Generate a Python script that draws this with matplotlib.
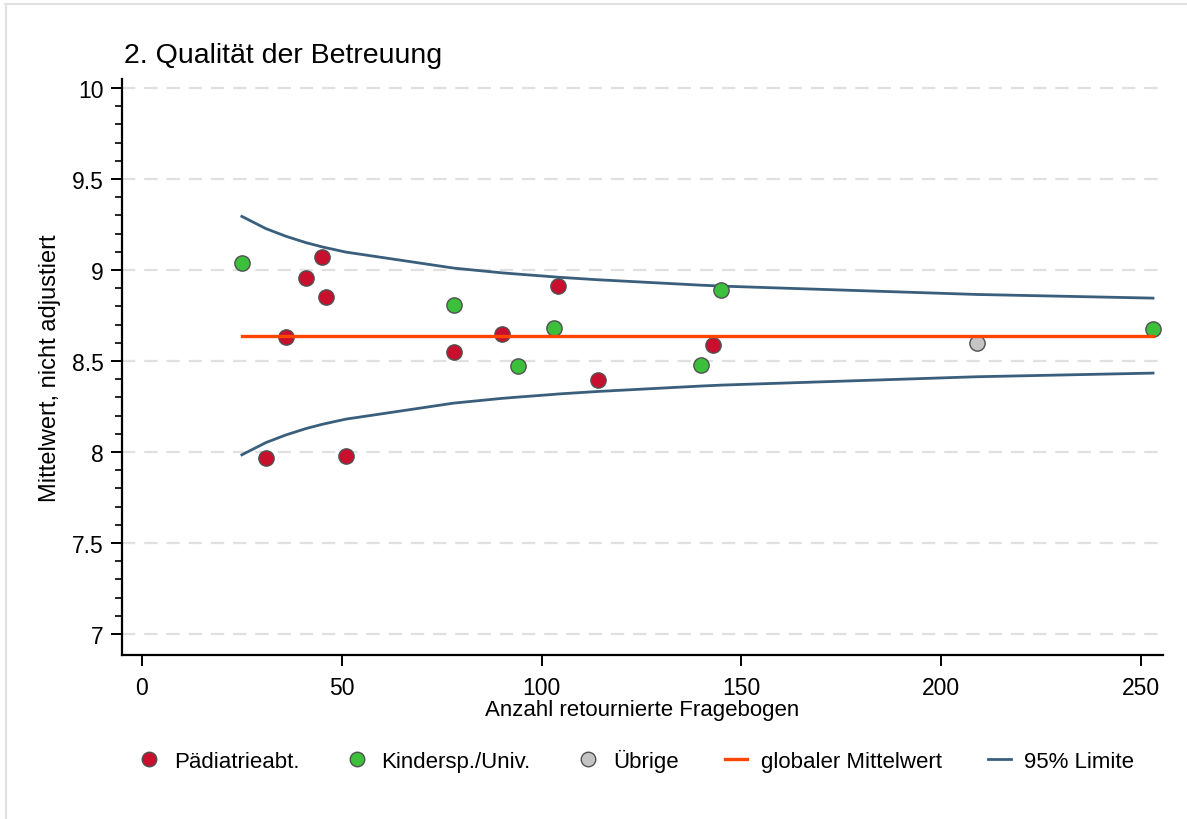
import matplotlib
matplotlib.use("Agg")
import matplotlib.pyplot as plt
from matplotlib.lines import Line2D

plt.rcParams["font.family"] = ["Liberation Sans", "DejaVu Sans"]

# Hospital groups: returned questionnaires (n) and unadjusted mean score
paed_n = [31, 41, 45, 46, 36, 51, 78, 90, 104, 114, 143]
paed_mean = [7.97, 8.955, 9.07, 8.85, 8.63, 7.98, 8.55, 8.65, 8.91, 8.395, 8.59]

kinder_n = [25, 78, 94, 103, 140, 145, 253]
kinder_mean = [9.04, 8.81, 8.475, 8.68, 8.48, 8.89, 8.675]

other_n = [209]
other_mean = [8.60]

# Global mean and 95% limits at each observed n
limit_n = [25, 31, 36, 41, 45, 46, 51, 78, 90, 94, 103, 104, 114, 140, 143, 145, 209, 253]
global_mean = [8.64] * len(limit_n)
upper_limit = [9.295, 9.228, 9.186, 9.151, 9.128, 9.123, 9.099, 9.011, 8.985, 8.978,
               8.963, 8.961, 8.947, 8.917, 8.914, 8.912, 8.866, 8.846]
lower_limit = [7.985, 8.052, 8.094, 8.129, 8.152, 8.157, 8.181, 8.269, 8.295, 8.302,
               8.317, 8.319, 8.333, 8.363, 8.366, 8.368, 8.414, 8.434]

x_ticks = [0, 50, 100, 150, 200, 250]
y_ticks = [7, 7.5, 8, 8.5, 9, 9.5, 10]
y_tick_labels = ["7", "7.5", "8", "8.5", "9", "9.5", "10"]

W, H = 1187, 820
fig = plt.figure(figsize=(W / 100, H / 100), dpi=100)
fig.patch.set_facecolor("white")

# light outer frame
fig.add_artist(Line2D([5 / W, 1], [1 - 5 / H, 1 - 5 / H], color="#e2e2e2", lw=1.6,
                      transform=fig.transFigure))
fig.add_artist(Line2D([6 / W, 6 / W], [0, 1 - 5 / H], color="#e2e2e2", lw=1.6,
                      transform=fig.transFigure))

ax = fig.add_axes([122 / W, 1 - 656 / H, (1163 - 122) / W, (656 - 80) / H])

red = "#c8102e"
green = "#3cc03c"
grey = "#c4c4c4"
orange = "#ff4500"
blue = "#3a5f7c"
edge = "#505050"

ax.plot(limit_n, upper_limit, color=blue, lw=2.0, zorder=2, label="95% Limite")
ax.plot(limit_n, lower_limit, color=blue, lw=2.0, zorder=2)

mk = dict(marker="o", linestyle="none", markersize=11, markeredgecolor=edge,
          markeredgewidth=1.0, zorder=3)
ax.plot(paed_n, paed_mean, markerfacecolor=red, label="Pädiatrieabt.", **mk)
ax.plot(kinder_n, kinder_mean, markerfacecolor=green, label="Kindersp./Univ.", **mk)
ax.plot(other_n, other_mean, markerfacecolor=grey, label="Übrige", **mk)

ax.plot(limit_n, global_mean, color=orange, lw=2.4, zorder=4, label="globaler Mittelwert")

ax.set_xlim(-5, 255.5)
ax.set_ylim(6.885, 10.05)

ax.set_xticks(x_ticks)
ax.set_yticks(y_ticks)
ax.set_yticklabels(y_tick_labels)
ax.set_yticks([v / 10 for v in range(70, 101) if v % 5 != 0], minor=True)

for s in ["top", "right"]:
    ax.spines[s].set_visible(False)
for s in ["left", "bottom"]:
    ax.spines[s].set_linewidth(1.6)
    ax.spines[s].set_color("black")

ax.tick_params(axis="both", which="major", direction="out", length=8, width=1.4,
               labelsize=16.5, colors="black")
ax.tick_params(axis="x", which="major", pad=7)
ax.tick_params(axis="y", which="major", pad=5)
ax.tick_params(axis="y", which="minor", direction="out", length=5, width=1.2)

ax.yaxis.grid(True, which="major", color="#e0e0e0", linestyle=(0, (6, 4)), lw=1.6)
ax.set_axisbelow(True)

ax.set_xlabel("Anzahl retournierte Fragebogen", fontsize=16, labelpad=0)
ax.set_ylabel("Mittelwert, nicht adjustiert", fontsize=17, labelpad=8)
ax.set_title("2. Qualität der Betreuung", loc="left", fontsize=20.5, pad=12, x=0.002)

handles, labels = ax.get_legend_handles_labels()
order = ["Pädiatrieabt.", "Kindersp./Univ.", "Übrige", "globaler Mittelwert", "95% Limite"]
hmap = dict(zip(labels, handles))
leg = fig.legend([hmap[k] for k in order], order, loc="center",
                 bbox_to_anchor=(636 / W, 1 - 761 / H), ncol=5, frameon=False,
                 fontsize=16, handlelength=1.0, handletextpad=0.6, columnspacing=2.1,
                 markerscale=0.95)

fig.savefig("out.png", dpi=100)
